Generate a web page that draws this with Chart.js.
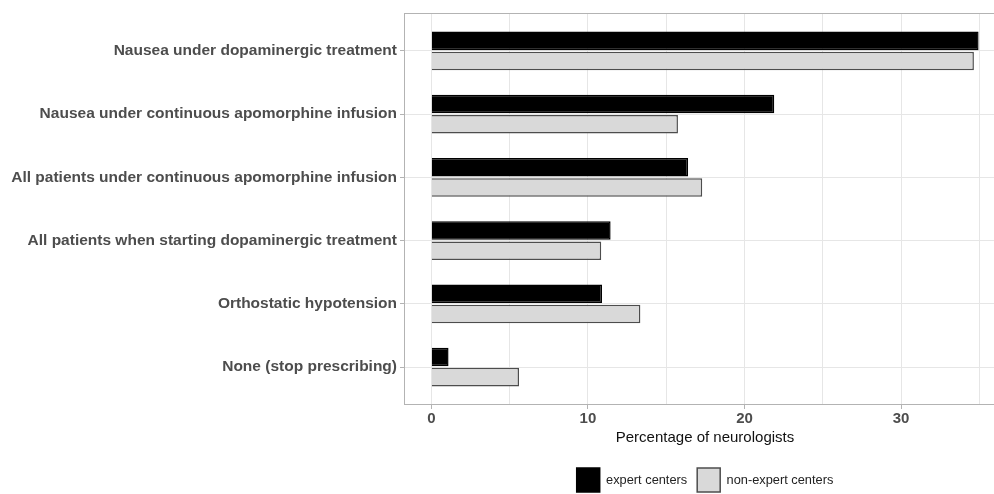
<!DOCTYPE html>
<html>
<head>
<meta charset="utf-8">
<script src="https://cdn.jsdelivr.net/npm/chart.js@4/dist/chart.umd.min.js"></script>
<style>
  html, body { margin: 0; padding: 0; background: #ffffff; overflow: hidden; }
  #wrap { position: relative; width: 1010px; height: 494px; }
</style>
</head>
<body>
<div id="wrap"><canvas id="c"></canvas></div>
<script>
const categories = [
  "Nausea under dopaminergic treatment",
  "Nausea under continuous apomorphine infusion",
  "All patients under continuous apomorphine infusion",
  "All patients when starting dopaminergic treatment",
  "Orthostatic hypotension",
  "None (stop prescribing)"
];
const seriesNames = ["expert centers", "non-expert centers"];
const expertValues = [34.95, 21.9, 16.4, 11.45, 10.9, 1.1];
const nonExpertValues = [34.65, 15.75, 17.3, 10.85, 13.35, 5.6];
const xMajorTicks = [0, 10, 20, 30];
const xMinorTicks = [5, 15, 25, 35];
const xTitle = "Percentage of neurologists";

const toPoints = vals => vals.map((v, i) => ({ x: v, y: i }));

const panelBorder = {
  id: 'panelBorder',
  beforeDatasetsDraw(chart) {
    const { ctx, chartArea: a } = chart;
    ctx.save();
    ctx.strokeStyle = '#B3B3B3';
    ctx.lineWidth = 1;
    ctx.strokeRect(a.left + 0.5, a.top + 0.5, a.right - a.left - 1, a.bottom - a.top - 1);
    ctx.restore();
  }
};

new Chart(document.getElementById('c'), {
  type: 'bar',
  data: {
    datasets: [
      {
        label: seriesNames[0],
        data: toPoints(expertValues),
        backgroundColor: '#000000',
        borderColor: '#000000',
        borderWidth: 1.5
      },
      {
        label: seriesNames[1],
        data: toPoints(nonExpertValues),
        backgroundColor: '#D9D9D9',
        borderColor: '#4D4D4D',
        borderWidth: 1.5
      }
    ]
  },
  options: {
    indexAxis: 'y',
    responsive: true,
    maintainAspectRatio: false,
    animation: false,
    devicePixelRatio: 1,
    categoryPercentage: 0.64,
    barPercentage: 0.92,
    layout: { padding: { top: 13, right: 4, bottom: -8, left: 0 } },
    plugins: {
      tooltip: { enabled: false },
      legend: {
        position: 'bottom',
        fullSize: false,
        labels: {
          boxWidth: 23,
          boxHeight: 24,
          padding: 10,
          color: '#222222',
          font: { family: 'Liberation Sans, Arial, sans-serif', size: 12.8 }
        }
      }
    },
    scales: {
      x: {
        type: 'linear',
        min: -1.745,
        max: 36.7,
        afterBuildTicks: s => {
          s.ticks = xMajorTicks.concat(xMinorTicks).sort((a, b) => a - b).map(v => ({ value: v }));
        },
        afterFit: s => { s.height = 53; },
        border: { display: false },
        grid: {
          color: '#E6E6E6',
          lineWidth: 1,
          tickLength: 4,
          tickColor: ctx => (xMajorTicks.includes(ctx.tick.value) ? '#B3B3B3' : 'rgba(0,0,0,0)')
        },
        ticks: {
          autoSkip: false,
          maxRotation: 0,
          padding: 1,
          color: '#4D4D4D',
          font: { family: 'Liberation Sans, Arial, sans-serif', size: 15, weight: 'bold' },
          callback: v => (xMajorTicks.includes(v) ? String(v) : '')
        },
        title: {
          display: true,
          text: xTitle,
          color: '#111111',
          padding: { top: 0, bottom: 11 },
          font: { family: 'Liberation Sans, Arial, sans-serif', size: 15 }
        }
      },
      y: {
        type: 'linear',
        offset: false,
        min: -0.6,
        max: 5.6,
        reverse: true,
        afterBuildTicks: s => { s.ticks = categories.map((c, i) => ({ value: i })); },
        afterFit: s => { s.width = 404; },
        border: { display: false },
        grid: {
          offset: false,
          color: '#E6E6E6',
          lineWidth: 1,
          tickLength: 4,
          tickColor: '#B3B3B3'
        },
        ticks: {
          autoSkip: false,
          padding: 3,
          color: '#4D4D4D',
          font: { family: 'Liberation Sans, Arial, sans-serif', size: 15.5, weight: 'bold' },
          callback: v => categories[v]
        }
      }
    }
  },
  plugins: [panelBorder]
});
</script>
</body>
</html>
